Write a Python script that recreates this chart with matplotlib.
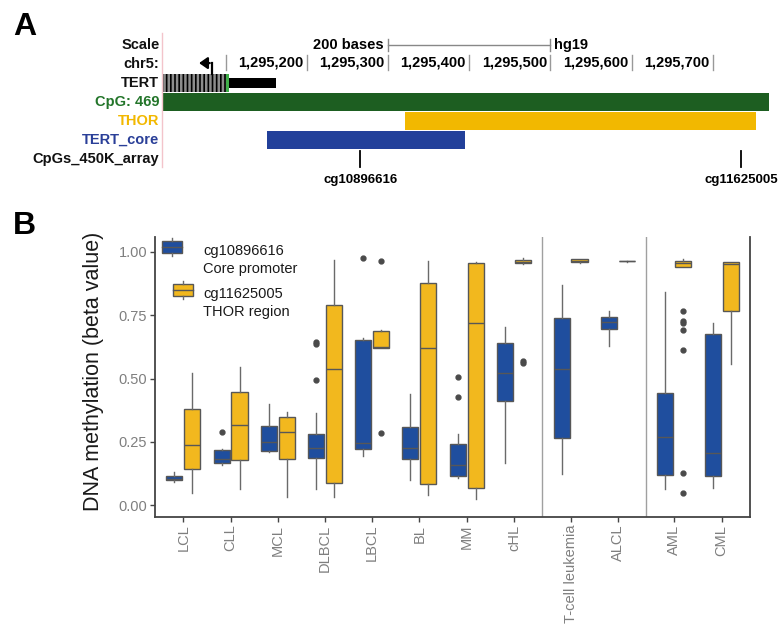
import numpy as np
import matplotlib
matplotlib.use("Agg")
import matplotlib.pyplot as plt
import matplotlib.transforms as mtrans
from matplotlib.patches import Rectangle
from matplotlib.lines import Line2D
from matplotlib.legend_handler import HandlerBase

plt.rcParams['font.family'] = ['Liberation Sans', 'DejaVu Sans']
plt.rcParams['hatch.linewidth'] = 1.8

# ---------------- panel A data (hg19 chr5 coordinates) ----------------
view_start, view_end = 1295023, 1295773
tert_striped = (1295023, 1295101)
tert_tss_edge = (1295101, 1295104)
tert_exon = (1295104, 1295162)
tss_pos = 1295083
cpg_island = (1295023, 1295769)
thor = (1295321, 1295753)
tert_core = (1295151, 1295395)
probe_names = ['cg10896616', 'cg11625005']
probe_pos = [1295266, 1295735]
chr_ticks = [1295100, 1295200, 1295300, 1295400, 1295500, 1295600, 1295700]
chr_labels = ['', '1,295,200', '1,295,300', '1,295,400', '1,295,500', '1,295,600', '1,295,700']
scale_bar = (1295300, 1295500)

track_names = ['Scale', 'chr5:', 'TERT', 'CpG: 469', 'THOR', 'TERT_core', 'CpGs_450K_array']
track_colors = ['#111111', '#111111', '#111111', '#23752a', '#f2b800', '#2a3f98', '#111111']

# ---------------- panel B data ----------------
categories = ['LCL', 'CLL', 'MCL', 'DLBCL', 'LBCL', 'BL', 'MM', 'cHL',
              'T-cell leukemia', 'ALCL', 'AML', 'CML']
cat_pos = [1, 2, 3, 4, 5, 6, 7, 8, 9.2, 10.2, 11.4, 12.4]
facet_breaks = [8.6, 10.8]

# cg10896616 (core promoter)
core_lo = [0.09, 0.16, 0.21, 0.062, 0.194, 0.10, 0.107, 0.165, 0.121, 0.63, 0.063, 0.066]
core_q1 = [0.10, 0.167, 0.213, 0.188, 0.223, 0.183, 0.116, 0.411, 0.265, 0.694, 0.117, 0.115]
core_med = [0.105, 0.183, 0.249, 0.224, 0.244, 0.225, 0.157, 0.52, 0.539, 0.722, 0.268, 0.204]
core_q3 = [0.115, 0.217, 0.313, 0.282, 0.652, 0.307, 0.241, 0.639, 0.738, 0.743, 0.444, 0.675]
core_hi = [0.13, 0.22, 0.40, 0.365, 0.659, 0.437, 0.281, 0.704, 0.87, 0.767, 0.842, 0.72]
core_out = [[], [0.29], [], [0.644, 0.635, 0.493], [0.975], [], [0.506, 0.426], [], [], [], [], []]

# cg11625005 (THOR region)
thor_lo = [0.049, 0.064, 0.033, 0.033, 0.622, 0.04, 0.025, 0.952, 0.957, 0.962, 0.94, 0.556]
thor_q1 = [0.141, 0.178, 0.183, 0.088, 0.622, 0.083, 0.068, 0.955, 0.959, 0.963, 0.942, 0.767]
thor_med = [0.238, 0.315, 0.289, 0.538, 0.623, 0.62, 0.718, 0.962, 0.965, 0.964, 0.958, 0.954]
thor_q3 = [0.378, 0.447, 0.349, 0.792, 0.688, 0.879, 0.955, 0.968, 0.971, 0.965, 0.964, 0.962]
thor_hi = [0.52, 0.547, 0.367, 0.968, 0.69, 0.966, 0.962, 0.975, 0.973, 0.966, 0.974, 0.962]
thor_out = [[], [], [], [], [0.964, 0.286], [], [], [0.568, 0.56], [], [],
            [0.766, 0.728, 0.72, 0.693, 0.614, 0.128, 0.046], []]

blue = '#1f4e9e'
yellow = '#f2b81e'
edge = '#575757'

fig = plt.figure(figsize=(7.8, 6.28), dpi=100)

# ======================= panel A =======================
ax_a = fig.add_axes([163 / 780, 1 - 195 / 628, 609 / 780, 165 / 628])
ax_a.set_xlim(view_start, view_end)
ax_a.set_ylim(7.89, -0.79)
ax_a.axis('off')
lab = mtrans.blended_transform_factory(ax_a.transAxes, ax_a.transData)

for i, (name, col) in enumerate(zip(track_names, track_colors)):
    ax_a.text(-0.006, i, name, transform=lab, ha='right', va='center',
              fontsize=10.5, fontweight='bold', color=col)
ax_a.plot([-0.002, -0.002], [-0.63, 6.42], transform=lab, color='#f3c4cb', lw=1, clip_on=False)

# scale row
ax_a.plot(scale_bar, [0, 0], color='#888888', lw=1)
for x in scale_bar:
    ax_a.plot([x, x], [-0.3, 0.3], color='#888888', lw=1)
ax_a.text(scale_bar[0] - 5, 0, '200 bases', ha='right', va='center', fontsize=10.5, fontweight='bold')
ax_a.text(scale_bar[1] + 4, 0, 'hg19', ha='left', va='center', fontsize=10.5, fontweight='bold')

# chromosome ruler
for t, l in zip(chr_ticks, chr_labels):
    ax_a.plot([t, t], [0.5, 1.3], color='#999999', lw=1)
    ax_a.text(t - 4, 0.9, l, ha='right', va='center', fontsize=10.5, fontweight='bold')

# TERT gene
ax_a.add_patch(Rectangle((tert_striped[0], 1.52), tert_striped[1] - tert_striped[0], 0.96,
                         facecolor='black', edgecolor='#8c8c8c', hatch='||||', lw=0))
ax_a.add_patch(Rectangle((tert_tss_edge[0], 1.52), tert_tss_edge[1] - tert_tss_edge[0], 0.96,
                         facecolor='#3fae49', lw=0))
ax_a.add_patch(Rectangle((tert_exon[0], 1.74), tert_exon[1] - tert_exon[0], 0.52,
                         facecolor='black', lw=0))
ax_a.plot([tss_pos, tss_pos], [1.5, 0.95], color='black', lw=1.6)
ax_a.annotate('', xy=(tss_pos - 19, 0.95), xytext=(tss_pos + 1, 0.95),
              arrowprops=dict(arrowstyle='-|>,head_length=0.5,head_width=0.35', color='black', lw=1.6))

# feature tracks
for (s, e), row, col in [(cpg_island, 3, '#1d5e21'), (thor, 4, '#f2b800'), (tert_core, 5, '#22409a')]:
    ax_a.add_patch(Rectangle((s, row - 0.47), e - s, 0.94, facecolor=col, lw=0))

for name, p in zip(probe_names, probe_pos):
    ax_a.plot([p, p], [5.55, 6.42], color='black', lw=1.3)
    ax_a.text(p, 7.1, name, ha='center', va='center', fontsize=9.5, fontweight='bold')

fig.text(13 / 780, 1 - 35 / 628, 'A', fontsize=23, fontweight='bold', va='baseline')
fig.text(13 / 780, 1 - 234 / 628, 'B', fontsize=23, fontweight='bold', va='baseline')

# ======================= panel B =======================
ax = fig.add_axes([155 / 780, 1 - 517 / 628, 595 / 780, 280 / 628])


def make_stats(lo, q1, med, q3, hi, out):
    return [dict(whislo=a, q1=b, med=c, q3=d, whishi=e, fliers=f)
            for a, b, c, d, e, f in zip(lo, q1, med, q3, hi, out)]


dodge = 0.19
pos = np.array(cat_pos)
for st, offs, col in [(make_stats(core_lo, core_q1, core_med, core_q3, core_hi, core_out), -dodge, blue),
                      (make_stats(thor_lo, thor_q1, thor_med, thor_q3, thor_hi, thor_out), dodge, yellow)]:
    ax.bxp(st, positions=pos + offs, widths=0.34, patch_artist=True, showcaps=False,
           boxprops=dict(facecolor=col, edgecolor=edge, lw=1.0),
           medianprops=dict(color=edge, lw=1.0),
           whiskerprops=dict(color='#6a6a6a', lw=1.0),
           flierprops=dict(marker='o', markersize=3.5, markerfacecolor='#4a4a4a',
                           markeredgecolor='#4a4a4a'))

for b in facet_breaks:
    ax.axvline(b, color='#a0a0a0', lw=1)

ax.set_xlim(0.4, 13.0)
ax.set_ylim(-0.047, 1.059)
ax.set_xticks(cat_pos)
ax.set_xticklabels(categories, rotation=90, fontsize=10.5, color='#7f7f7f')
ax.set_yticks([0, 0.25, 0.5, 0.75, 1.0])
ax.set_yticklabels(['0.00', '0.25', '0.50', '0.75', '1.00'], fontsize=10.5, color='#7f7f7f')
ax.tick_params(axis='both', length=3.5, width=1, color='#444444', pad=2)
ax.spines['top'].set_visible(False)
for s in ['left', 'bottom', 'right']:
    ax.spines[s].set_color('#444444')
    ax.spines[s].set_linewidth(1.3)
ax.set_ylabel('DNA methylation (beta value)', fontsize=15.5, color='#1a1a1a')
ax.yaxis.set_label_coords(-0.085, 0.52)


class BoxKey(HandlerBase):
    def __init__(self, dx):
        super().__init__()
        self.dx = dx

    def create_artists(self, legend, orig_handle, xdescent, ydescent, width, height, fontsize, trans):
        x0 = -xdescent + self.dx
        y0 = 9.0
        w, h = 14.4, 8.6
        fc = orig_handle.get_facecolor()
        rect = Rectangle((x0, y0), w, h, facecolor=fc, edgecolor=edge, lw=1.0, transform=trans)
        med = Line2D([x0, x0 + w], [y0 + h / 2, y0 + h / 2], color=edge, lw=1.0, transform=trans)
        wt = Line2D([x0 + w / 2, x0 + w / 2], [y0 + h, y0 + h + 2.2], color='#6a6a6a', lw=1.0, transform=trans)
        wb = Line2D([x0 + w / 2, x0 + w / 2], [y0 - 2.2, y0], color='#6a6a6a', lw=1.0, transform=trans)
        return [rect, med, wt, wb]


h_core = Rectangle((0, 0), 1, 1, facecolor=blue)
h_thor = Rectangle((0, 0), 1, 1, facecolor=yellow)
leg = ax.legend([h_core, h_thor], ['cg10896616\nCore promoter', 'cg11625005\nTHOR region'],
                handler_map={h_core: BoxKey(-4.3), h_thor: BoxKey(3.6)},
                loc='upper left', bbox_to_anchor=((168 - 155) / 595, 0.975), frameon=False,
                borderaxespad=0, borderpad=0, handlelength=1.8, handletextpad=0.6,
                labelspacing=0.75, fontsize=10.5, labelcolor='#1a1a1a')
for t in leg.get_texts():
    t.set_linespacing(1.35)

fig.savefig('out.png', dpi=100)
